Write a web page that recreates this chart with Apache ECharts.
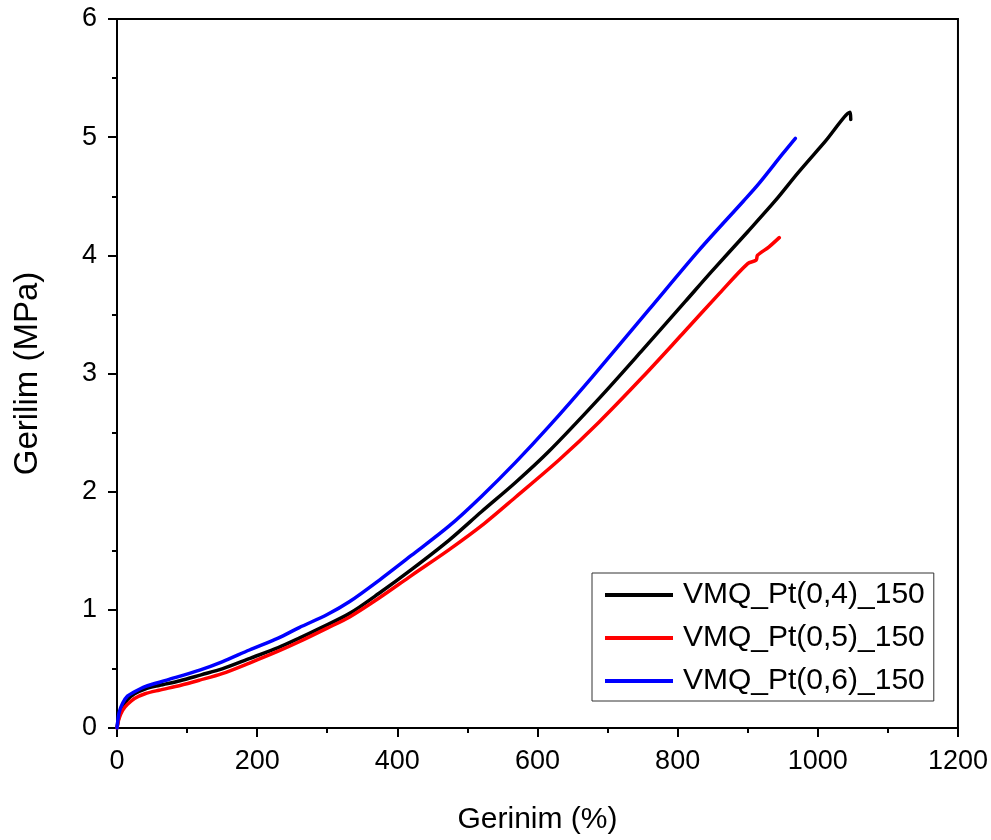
<!DOCTYPE html>
<html>
<head>
<meta charset="utf-8">
<script src="https://cdn.jsdelivr.net/npm/echarts@6/dist/echarts.min.js"></script>
<style>
html,body{margin:0;padding:0;background:#fff;}
#chart{width:991px;height:840px;}
</style>
</head>
<body>
<div id="chart"></div>
<script>
// ---- data ----
const xTicks = [0, 200, 400, 600, 800, 1000, 1200];
const yTicks = [0, 1, 2, 3, 4, 5, 6];

const seriesNames = ['VMQ_Pt(0,4)_150', 'VMQ_Pt(0,5)_150', 'VMQ_Pt(0,6)_150'];
const seriesColors = ['#000000', '#ff0000', '#0000ff'];

const strainPt04 = [0, 3, 8, 15, 25, 40, 60, 90, 120, 150, 190, 230, 260, 290, 332, 374, 420, 474, 520, 569, 616, 688, 750, 811, 848, 900, 939, 972, 1010, 1046, 1047];
const stressPt04 = [0, 0.10, 0.18, 0.24, 0.29, 0.33, 0.36, 0.40, 0.45, 0.50, 0.59, 0.68, 0.76, 0.845, 0.97, 1.14, 1.34, 1.59, 1.83, 2.08, 2.34, 2.79, 3.20, 3.61, 3.86, 4.20, 4.46, 4.70, 4.96, 5.21, 5.15];

const strainPt05 = [0, 3, 8, 15, 25, 40, 60, 90, 118, 150, 189, 230, 260, 300, 332, 374, 420, 474, 524, 569, 631, 688, 750, 806, 860, 900, 912, 914, 930, 945];
const stressPt05 = [0, 0.08, 0.15, 0.20, 0.25, 0.29, 0.32, 0.36, 0.405, 0.46, 0.55, 0.65, 0.73, 0.845, 0.94, 1.10, 1.29, 1.51, 1.73, 1.955, 2.27, 2.59, 2.97, 3.33, 3.68, 3.93, 3.96, 4.00, 4.07, 4.15];

const strainPt06 = [0, 3, 8, 15, 23, 40, 71, 118, 150, 189, 230, 260, 300, 332, 374, 420, 474, 520, 569, 616, 678, 759, 830, 894, 915, 950, 968];
const stressPt06 = [0, 0.13, 0.21, 0.27, 0.30, 0.35, 0.405, 0.49, 0.56, 0.66, 0.76, 0.85, 0.96, 1.07, 1.25, 1.46, 1.71, 1.96, 2.25, 2.55, 2.97, 3.54, 4.04, 4.46, 4.60, 4.86, 4.99];

const strains = [strainPt04, strainPt05, strainPt06];
const stresses = [stressPt04, stressPt05, stressPt06];

// ---- chart ----
const FONT = '"Liberation Sans", Arial, sans-serif';
const chart = echarts.init(document.getElementById('chart'), null, {renderer: 'canvas'});

const series = seriesNames.map((name, i) => ({
  name: name,
  type: 'line',
  data: strains[i].map((x, k) => [x, stresses[i][k]]),
  showSymbol: false,
  symbol: 'none',
  smooth: 0.3,
  color: seriesColors[i],
  lineStyle: {color: seriesColors[i], width: 3.5, join: 'round', cap: 'round'},
  animation: false,
  z: 2 + i
}));

chart.setOption({
  backgroundColor: '#ffffff',
  animation: false,
  grid: {
    left: 117, right: 31, top: 19, bottom: 112,
    show: true, borderColor: '#000', borderWidth: 2, backgroundColor: 'transparent'
  },
  legend: {
    orient: 'vertical',
    left: 592, top: 573,
    data: seriesNames,
    icon: 'rect',
    itemWidth: 68, itemHeight: 4,
    itemGap: 9,
    padding: [5, 9, 3, 13],
    backgroundColor: '#fff',
    borderColor: '#333', borderWidth: 1, borderRadius: 0,
    textStyle: {fontSize: 30, fontFamily: FONT, color: '#000', lineHeight: 34, padding: [0, 0, 0, 5]}
  },
  xAxis: {
    type: 'value',
    min: xTicks[0], max: xTicks[xTicks.length - 1], interval: xTicks[1] - xTicks[0],
    name: 'Gerinim (%)',
    nameLocation: 'middle', nameGap: 77,
    nameTextStyle: {fontSize: 30, fontFamily: FONT, color: '#000'},
    axisLine: {show: true, onZero: false, lineStyle: {color: '#000', width: 2}},
    axisTick: {show: true, inside: false, length: 9, lineStyle: {color: '#000', width: 2}},
    minorTick: {show: true, splitNumber: 2, length: 5, lineStyle: {color: '#000', width: 2}},
    axisLabel: {fontSize: 27, fontFamily: FONT, color: '#000', margin: 20, formatter: v => String(v)},
    splitLine: {show: false}
  },
  yAxis: {
    type: 'value',
    min: yTicks[0], max: yTicks[yTicks.length - 1], interval: yTicks[1] - yTicks[0],
    name: 'Gerilim (MPa)',
    nameLocation: 'middle', nameGap: 73, nameRotate: 90,
    nameTextStyle: {fontSize: 33, fontFamily: FONT, color: '#000'},
    axisLine: {show: true, onZero: false, lineStyle: {color: '#000', width: 2}},
    axisTick: {show: true, inside: false, length: 9, lineStyle: {color: '#000', width: 2}},
    minorTick: {show: true, splitNumber: 2, length: 5, lineStyle: {color: '#000', width: 2}},
    axisLabel: {fontSize: 27, fontFamily: FONT, color: '#000', margin: 20, formatter: v => String(v)},
    splitLine: {show: false}
  },
  series: series
});
</script>
</body>
</html>
